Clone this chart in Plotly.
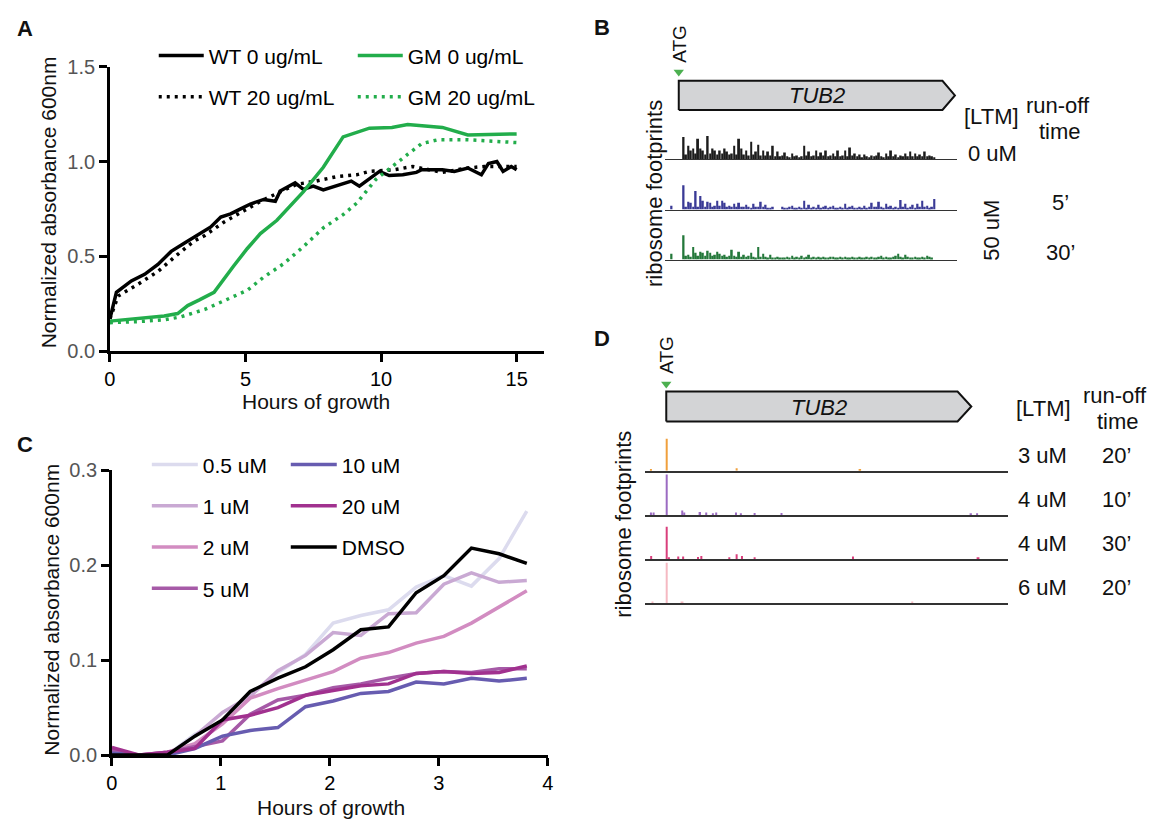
import plotly.graph_objects as go

W, H = 1158, 833
FONT = "Liberation Sans, Arial, Helvetica, sans-serif"

# ---------------- Panel A: growth curves (hours, normalized A600) ----------------
wt0_h = [0, 0.24, 0.79, 1.28, 1.77, 2.26, 2.74, 3.23, 3.72, 4.09, 4.45, 4.82, 5.18, 5.67, 6.1, 6.28,
         6.83, 7.13, 7.5, 7.87, 8.35, 8.9, 9.2, 9.57, 9.94, 10.3, 10.8, 11.3, 11.5, 12.26, 12.7, 13.2,
         13.7, 13.96, 14.27, 14.5, 14.8, 15.0]
wt0_v = [0.17, 0.31, 0.37, 0.405, 0.457, 0.526, 0.569, 0.612, 0.655, 0.707, 0.724, 0.75, 0.776, 0.80, 0.79, 0.845,
         0.888, 0.853, 0.87, 0.85, 0.87, 0.897, 0.87, 0.909, 0.948, 0.926, 0.93, 0.943, 0.957, 0.957, 0.948, 0.966,
         0.93, 0.99, 1.0, 0.948, 0.974, 0.957]
wt20_h = [0, 0.3, 1.04, 1.77, 2.5, 3.1, 3.5, 4.2, 4.94, 5.55, 6.28, 6.9, 7.6, 8.35, 9.1, 9.57, 10.5, 11.16,
          12.26, 13.2, 13.8, 15.0]
wt20_v = [0.17, 0.29, 0.353, 0.42, 0.51, 0.58, 0.61, 0.68, 0.74, 0.79, 0.84, 0.88, 0.897, 0.92, 0.93, 0.948, 0.957,
          0.974, 0.943, 0.966, 0.974, 0.974]
gm0_h = [0, 1.0, 2.0, 2.5, 2.87, 3.3, 3.84, 4.57, 5.06, 5.55, 6.16, 7.13, 7.87, 8.6, 9.57, 10.4, 10.98, 12.26,
         13.2, 15.0]
gm0_v = [0.158, 0.17, 0.185, 0.198, 0.24, 0.27, 0.31, 0.45, 0.54, 0.62, 0.69, 0.84, 0.97, 1.13, 1.176, 1.18, 1.195,
         1.18, 1.14, 1.146]
gm20_h = [0, 1.0, 2.0, 2.6, 3.5, 4.45, 5.06, 5.67, 6.4, 7.13, 7.87, 8.6, 9.1, 9.8, 10.4, 11.0, 11.5, 12.1, 13.2, 15.0]
gm20_v = [0.15, 0.155, 0.165, 0.18, 0.22, 0.28, 0.32, 0.39, 0.46, 0.55, 0.65, 0.72, 0.78, 0.905, 0.97, 1.04, 1.095,
          1.115, 1.115, 1.10]

# ---------------- Panel C: LTM dose series ----------------
c_h = [0, 0.254, 0.508, 0.761, 1.015, 1.269, 1.523, 1.777, 2.03, 2.284, 2.538, 2.792, 3.046, 3.299, 3.553, 3.807]
c_05 = [0.003, 0.0, 0.0, 0.022, 0.034, 0.062, 0.087, 0.106, 0.139, 0.147, 0.153, 0.177, 0.189, 0.178, 0.207, 0.257]
c_1 = [0.005, 0.0, 0.0, 0.02, 0.045, 0.062, 0.089, 0.105, 0.129, 0.126, 0.149, 0.150, 0.18, 0.192, 0.182, 0.184]
c_2 = [0.004, 0.0, 0.003, 0.012, 0.033, 0.06, 0.07, 0.079, 0.088, 0.102, 0.108, 0.118, 0.125, 0.139, 0.156, 0.173]
c_5 = [0.005, 0.0, 0.003, 0.009, 0.015, 0.043, 0.058, 0.063, 0.071, 0.075, 0.081, 0.086, 0.088, 0.087, 0.091, 0.091]
c_10 = [0.002, 0.0, 0.0, 0.007, 0.02, 0.026, 0.029, 0.051, 0.057, 0.065, 0.067, 0.077, 0.075, 0.081, 0.078, 0.081]
c_20 = [0.008, 0.0, 0.003, 0.007, 0.037, 0.042, 0.05, 0.063, 0.068, 0.073, 0.075, 0.086, 0.088, 0.086, 0.087, 0.094]
c_dmso = [0.0, 0.0, 0.0, 0.02, 0.037, 0.067, 0.081, 0.093, 0.111, 0.132, 0.135, 0.171, 0.189, 0.218, 0.212, 0.202]
c_names = ["0.5 uM", "1 uM", "2 uM", "5 uM", "10 uM", "20 uM", "DMSO"]
c_colors = ["#dcdbee", "#c9a9d3", "#d28cc1", "#a65aa7", "#675cb0", "#a1318f", "#000000"]

# ---------------- Gene model ----------------
gene_len = 1374      # TUB2 CDS length (nt)
head_len = 62        # arrow head length (nt)

# ---------------- Panel B: footprint tracks (nt position, relative reads) ----------------
b_pos = [-36,
         24, 36, 48, 60, 72, 84, 96, 108, 120, 132,
         144, 156, 168, 180, 192, 204, 216, 228, 240, 252,
         264, 276, 288, 300, 312, 324, 336, 348, 360, 372,
         384, 396, 408, 420, 432, 444, 456, 468, 480, 492,
         504, 516, 528, 540, 552, 564, 576, 588, 600, 612,
         624, 636, 648, 660, 672, 684, 696, 708, 720, 732,
         744, 756, 768, 780, 792, 804, 816, 828, 840, 852,
         864, 876, 888, 900, 912, 924, 936, 948, 960, 972,
         984, 996, 1008, 1020, 1032, 1044, 1056, 1068, 1080, 1092,
         1104, 1116, 1128, 1140, 1152, 1164, 1176, 1188, 1200, 1212,
         1224, 1236, 1248, 1260, 1272]
b_0uM = [0,
         23, 5, 14, 9, 11, 6, 21, 11, 9, 5,
         24, 6, 11, 9, 5, 9, 6, 11, 8, 5,
         6, 14, 5, 21, 11, 5, 9, 4, 18, 5,
         8, 15, 4, 9, 4, 8, 4, 14, 3, 8,
         3, 4, 7, 3, 2, 6, 3, 4, 2, 3,
         14, 4, 8, 3, 4, 9, 3, 7, 4, 9,
         3, 4, 6, 3, 9, 3, 4, 9, 3, 12,
         4, 6, 3, 5, 2, 5, 3, 2, 4, 3,
         4, 7, 3, 2, 6, 3, 9, 3, 5, 2,
         4, 3, 6, 3, 8, 3, 6, 3, 5, 3,
         8, 3, 4, 3, 2]
b_50uM_5 = [4,
            25, 3, 8, 7, 3, 19, 3, 14, 9, 3,
            8, 7, 3, 4, 9, 4, 9, 7, 3, 4,
            3, 6, 3, 7, 3, 3, 5, 3, 2, 6,
            3, 3, 8, 3, 5, 2, 2, 3, 0, 0,
            0, 3, 2, 2, 3, 4, 2, 2, 3, 2,
            9, 2, 5, 2, 3, 2, 5, 2, 3, 4,
            2, 3, 4, 2, 2, 3, 2, 6, 2, 3,
            4, 2, 2, 3, 2, 4, 2, 3, 7, 3,
            3, 8, 3, 2, 6, 3, 4, 2, 3, 2,
            10, 3, 6, 2, 3, 5, 2, 6, 3, 9,
            3, 4, 2, 3, 11]
b_50uM_30 = [6,
             25, 4, 5, 3, 13, 7, 4, 8, 7, 4,
             9, 7, 4, 5, 8, 6, 4, 5, 3, 4,
             10, 4, 3, 8, 3, 5, 3, 4, 7, 3,
             2, 13, 3, 6, 3, 2, 5, 2, 2, 3,
             2, 2, 2, 3, 2, 4, 2, 3, 2, 4,
             2, 3, 5, 2, 3, 2, 3, 2, 3, 2,
             2, 3, 3, 2, 2, 3, 2, 3, 2, 2,
             3, 2, 2, 3, 2, 2, 3, 2, 3, 2,
             2, 3, 4, 2, 3, 2, 2, 3, 4, 6,
             3, 2, 5, 3, 2, 2, 3, 2, 2, 3,
             2, 4, 3, 2, 0]
b_tracks = [b_0uM, b_50uM_5, b_50uM_30]
b_colors = ["#1c1c1c", "#3a3a96", "#23783a"]

# ---------------- Panel D: footprint tracks ----------------
d1_pos = [-69, 2, 317, 873]
d1_val = [1, 33, 2.7, 1]
d2_pos = [-69, -57, 2, 72, 81, 152, 180, 210, 225, 314, 336, 398, 519, 1372, 1400]
d2_val = [2.7, 2.7, 41.7, 4.7, 2.7, 3, 2.7, 1.5, 2.7, 2.7, 1.5, 2, 2, 1.5, 1]
d3_pos = [-68, 2, 12, 54, 76, 143, 158, 284, 317, 341, 398, 841, 1406]
d3_val = [3.3, 33.3, 2, 2.7, 2.7, 2.3, 3.3, 1.5, 5, 3.3, 2, 2.7, 1.5]
d4_pos = [-62, 2, 73, 1108]
d4_val = [1, 41.7, 1.5, 1]
d_tracks = [(d1_pos, d1_val), (d2_pos, d2_val), (d3_pos, d3_val), (d4_pos, d4_val)]
d_colors = ["#f0a03c", "#9b6bc2", "#d93f7c", "#f5b9c2"]
d_ltm = ["3 uM", "4 uM", "4 uM", "6 uM"]
d_time = ["20\u2019", "10\u2019", "30\u2019", "20\u2019"]


def fx(p):
    return p / W


def fy(p):
    return 1 - p / H


def dx(a, b):
    return [a / W, b / W]


def dy(top, bot):
    return [1 - bot / H, 1 - top / H]


fig = go.Figure()

# ---- Panel A traces
green = "#22ad4b"
fig.add_trace(go.Scatter(x=wt0_h, y=wt0_v, mode="lines", name="WT 0 ug/mL",
                         line=dict(color="black", width=3.5), xaxis="x", yaxis="y",
                         legend="legend", legendgroup="a1"))
fig.add_trace(go.Scatter(x=wt20_h, y=wt20_v, mode="lines", name="WT 20 ug/mL",
                         line=dict(color="black", width=3.5, dash="3px,5px"), xaxis="x", yaxis="y",
                         legend="legend", legendgroup="a2"))
fig.add_trace(go.Scatter(x=gm0_h, y=gm0_v, mode="lines", name="GM 0 ug/mL",
                         line=dict(color=green, width=3.5), xaxis="x", yaxis="y",
                         legend="legend2", legendgroup="a3"))
fig.add_trace(go.Scatter(x=gm20_h, y=gm20_v, mode="lines", name="GM 20 ug/mL",
                         line=dict(color=green, width=3.5, dash="3px,5px"), xaxis="x", yaxis="y",
                         legend="legend2", legendgroup="a4"))

# ---- Panel C traces
c_series = [c_05, c_1, c_2, c_5, c_10, c_20, c_dmso]
for i, (nm, col, ys) in enumerate(zip(c_names, c_colors, c_series)):
    fig.add_trace(go.Scatter(x=c_h, y=ys, mode="lines", name=nm,
                             line=dict(color=col, width=3.5), xaxis="x2", yaxis="y2",
                             legend="legend3" if i < 4 else "legend4", legendgroup="c%d" % i))

# ---- gene arrow outline (nt / unit coords)
arrow_x = [0, gene_len - head_len, gene_len, gene_len - head_len, 0, 0]
arrow_y = [0, 0, 0.5, 1, 1, 0]

# ---- Panel B
fig.add_trace(go.Scatter(x=arrow_x, y=arrow_y, mode="lines", fill="toself", fillcolor="#d3d4d6",
                         line=dict(color="#111", width=2), xaxis="x3", yaxis="y3", showlegend=False,
                         hoverinfo="skip"))
fig.add_trace(go.Scatter(x=[0], y=[1.3], mode="markers", marker=dict(symbol="triangle-down", size=9,
                         color="#4cb050", line=dict(width=0)), xaxis="x3", yaxis="y3", cliponaxis=False,
                         showlegend=False))
for k, (vals, col) in enumerate(zip(b_tracks, b_colors)):
    ax = 4 + k
    fig.add_trace(go.Bar(x=b_pos, y=vals, width=9, marker=dict(color=col, line=dict(width=0)),
                         xaxis="x%d" % ax, yaxis="y%d" % ax, showlegend=False))

# ---- Panel D
fig.add_trace(go.Scatter(x=arrow_x, y=arrow_y, mode="lines", fill="toself", fillcolor="#d3d4d6",
                         line=dict(color="#111", width=2), xaxis="x7", yaxis="y7", showlegend=False,
                         hoverinfo="skip"))
fig.add_trace(go.Scatter(x=[0], y=[1.25], mode="markers", marker=dict(symbol="triangle-down", size=9,
                         color="#4cb050", line=dict(width=0)), xaxis="x7", yaxis="y7", cliponaxis=False,
                         showlegend=False))
for k, ((pos, vals), col) in enumerate(zip(d_tracks, d_colors)):
    ax = 8 + k
    fig.add_trace(go.Bar(x=pos, y=vals, width=9, marker=dict(color=col, line=dict(width=0)),
                         xaxis="x%d" % ax, yaxis="y%d" % ax, showlegend=False))

# ---------------- Layout ----------------
axc = dict(showline=True, linecolor="black", linewidth=2.5, ticks="outside", ticklen=8, tickwidth=2.5,
           tickcolor="black", showgrid=False, zeroline=False, fixedrange=True)
lay = dict(
    width=W, height=H, autosize=False, margin=dict(l=0, r=0, t=0, b=0),
    paper_bgcolor="white", plot_bgcolor="white", font=dict(family=FONT, color="black"),
    hovermode=False,
    xaxis=dict(domain=dx(105, 543.4), range=[0, 16], tickvals=[0, 5, 10, 15], anchor="y",
               tickfont=dict(size=20, color="black"), **axc),
    yaxis=dict(domain=dy(57.3, 349.3), range=[0, 1.5], tickvals=[0, 0.5, 1, 1.5],
               ticktext=["0.0", "0.5", "1.0", "1.5"], anchor="x", tickfont=dict(size=20, color="#555"), **axc),
    xaxis2=dict(domain=dx(107, 547.5), range=[0, 4], tickvals=[0, 1, 2, 3, 4], anchor="y2",
                tickfont=dict(size=20, color="black"), **axc),
    yaxis2=dict(domain=dy(471.7, 764.3), range=[0, 0.3], tickvals=[0, 0.1, 0.2, 0.3],
                ticktext=["0.0", "0.1", "0.2", "0.3"], anchor="x2", tickfont=dict(size=20, color="#555"), **axc),
)

hidden = dict(visible=False, fixedrange=True)
xB = [-67.5, 1382.6]
xBd = dx(666.1, 960.6)
lay["xaxis3"] = dict(domain=xBd, range=xB, anchor="y3", **hidden)
# arrow axis: unit = 30 px; range covers the ATG marker too
lay["yaxis3"] = dict(domain=dy(58.2, 103.2), range=[-0.05, 1.45], anchor="x3", **hidden)
for k, base in enumerate([152.3, 204, 255.3]):
    ax = 4 + k
    lay["xaxis%d" % ax] = dict(domain=xBd, range=xB, anchor="y%d" % ax, showline=True, linecolor="#333",
                               linewidth=1.2, showticklabels=False, ticks="", showgrid=False, zeroline=False,
                               fixedrange=True)
    lay["yaxis%d" % ax] = dict(domain=dy(base - 27, base), range=[0, 27], anchor="x%d" % ax, **hidden)

xD = [-97.5, 1537]
xDd = dx(645.3, 1012)
lay["xaxis7"] = dict(domain=xDd, range=xD, anchor="y7", **hidden)
lay["yaxis7"] = dict(domain=dy(376.9, 423.2), range=[-0.05, 1.45], anchor="x7", **hidden)
for k, base in enumerate([472.3, 517.7, 563, 608.3]):
    ax = 8 + k
    lay["xaxis%d" % ax] = dict(domain=xDd, range=xD, anchor="y%d" % ax, showline=True, linecolor="#333",
                               linewidth=1.5, showticklabels=False, ticks="", showgrid=False, zeroline=False,
                               fixedrange=True)
    lay["yaxis%d" % ax] = dict(domain=dy(base - 44, base), range=[0, 44], anchor="x%d" % ax, **hidden)

leg = dict(xanchor="left", yanchor="top", bgcolor="rgba(0,0,0,0)", borderwidth=0,
           font=dict(size=21, family=FONT, color="black"), tracegroupgap=11, traceorder="grouped")
lay["legend"] = dict(x=fx(149.3), y=fy(25), itemwidth=45, **leg)
lay["legend2"] = dict(x=fx(350.4), y=fy(25), itemwidth=45, **leg)
lay["legend3"] = dict(x=fx(142.3), y=fy(445), itemwidth=46, **leg)
lay["legend4"] = dict(x=fx(282.7), y=fy(445), itemwidth=46, **leg)


def ann(text, x, y, size=22, angle=0, bold=False, color="#111", xref="paper"):
    return dict(text="<b>%s</b>" % text if bold else text,
                x=fx(x) if xref == "paper" else x, y=fy(y), xref=xref, yref="paper",
                showarrow=False, textangle=angle, xanchor="center", yanchor="middle",
                font=dict(size=size, family=FONT, color=color))


annotations = [
    ann("A", 19.6, 18.3, bold=True), ann("B", 602.7, 16.7, bold=True),
    ann("C", 19.6, 445, bold=True), ann("D", 602.7, 336.7, bold=True),
    ann("Normalized absorbance 600nm", 43, 197, size=21, angle=-90),
    ann("Hours of growth", 313, 401, size=21),
    ann("Normalized absorbance 600nm", 46.4, 615, size=21, angle=-90),
    ann("Hours of growth", 328.6, 818.3, size=21),
    # B labels
    ann("ATG", 0, 34, size=19, angle=-90, xref="x3"),
    ann("<i>TUB2</i>", gene_len / 2, 87.3, size=22, xref="x3"),
    ann("ribosome footprints", 655.2, 187.5, size=22, angle=-90),
    ann("[LTM]", 996, 108.3), ann("run-off", 1063, 96.7), ann("time", 1065.3, 123.3),
    ann("0 uM", 996.4, 146.7), ann("50 uM", 995, 225, angle=-90),
    ann("5\u2019", 1065.6, 196.7), ann("30\u2019", 1065.6, 248.3),
    # D labels
    ann("ATG", 0, 352.8, size=19, angle=-90, xref="x7"),
    ann("<i>TUB2</i>", gene_len / 2, 407.3, size=22, xref="x7"),
    ann("ribosome footprints", 624.4, 526.7, size=22, angle=-90),
    ann("[LTM]", 1048.3, 408.3), ann("run-off", 1121, 395), ann("time", 1123.3, 421.7),
]
for ltm, tm, yy in zip(d_ltm, d_time, [456.7, 501.7, 546.7, 591.7]):
    annotations.append(ann(ltm, 1047.6, yy))
    annotations.append(ann(tm, 1122.6, yy))
lay["annotations"] = annotations

fig.update_layout(**lay)
fig.write_html("out.html", config={"displayModeBar": False},
               post_script="document.body.style.margin='0px';document.body.style.overflow='hidden';")
